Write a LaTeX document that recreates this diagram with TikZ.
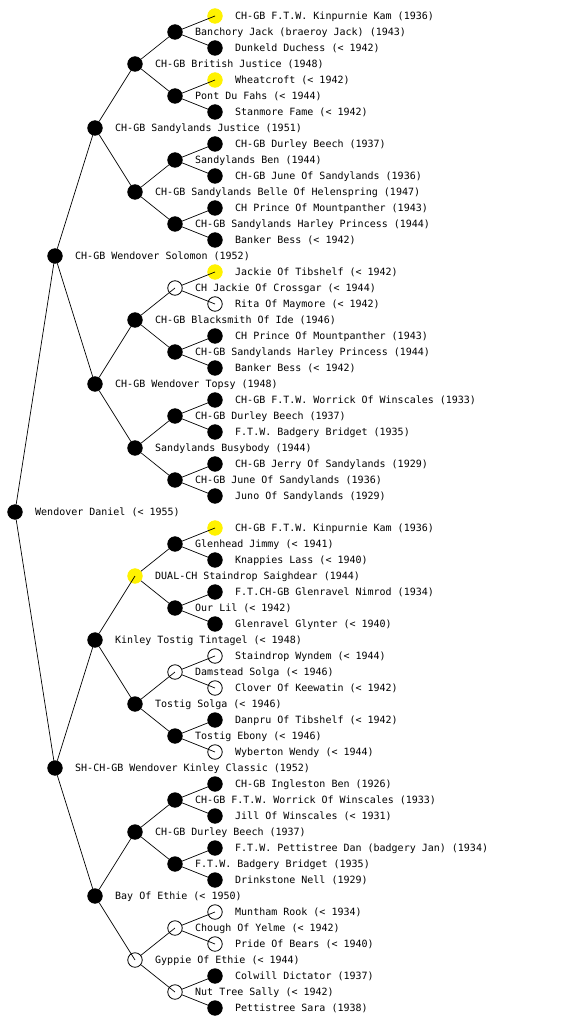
\documentclass[tikz,border=0pt]{standalone}
\usepackage{fontspec}
\setmonofont{DejaVu Sans Mono}
\begin{document}
\begin{tikzpicture}[x=1pt,y=-1pt,
  mk/.style={circle,inner sep=0pt,minimum size=14.5pt,line width=0.8pt,draw=black},
  blk/.style={mk,fill=black},
  yel/.style={mk,draw=yellow,fill=yellow},
  opn/.style={mk},
  lbl/.style={anchor=base west,inner sep=0pt,font=\ttfamily\fontsize{10}{12}\selectfont},
  edge/.style={line width=0.7pt,draw=black}]
\useasboundingbox[fill=white] (0,0) rectangle (560,1024);
\foreach \k/\g/\s/\t in {
0/5/yel/{CH-GB F.T.W. Kinpurnie Kam (1936)},
1/4/blk/{Banchory Jack (braeroy Jack) (1943)},
2/5/blk/{Dunkeld Duchess (< 1942)},
3/3/blk/{CH-GB British Justice (1948)},
4/5/yel/{Wheatcroft (< 1942)},
5/4/blk/{Pont Du Fahs (< 1944)},
6/5/blk/{Stanmore Fame (< 1942)},
7/2/blk/{CH-GB Sandylands Justice (1951)},
8/5/blk/{CH-GB Durley Beech (1937)},
9/4/blk/{Sandylands Ben (1944)},
10/5/blk/{CH-GB June Of Sandylands (1936)},
11/3/blk/{CH-GB Sandylands Belle Of Helenspring (1947)},
12/5/blk/{CH Prince Of Mountpanther (1943)},
13/4/blk/{CH-GB Sandylands Harley Princess (1944)},
14/5/blk/{Banker Bess (< 1942)},
15/1/blk/{CH-GB Wendover Solomon (1952)},
16/5/yel/{Jackie Of Tibshelf (< 1942)},
17/4/opn/{CH Jackie Of Crossgar (< 1944)},
18/5/opn/{Rita Of Maymore (< 1942)},
19/3/blk/{CH-GB Blacksmith Of Ide (1946)},
20/5/blk/{CH Prince Of Mountpanther (1943)},
21/4/blk/{CH-GB Sandylands Harley Princess (1944)},
22/5/blk/{Banker Bess (< 1942)},
23/2/blk/{CH-GB Wendover Topsy (1948)},
24/5/blk/{CH-GB F.T.W. Worrick Of Winscales (1933)},
25/4/blk/{CH-GB Durley Beech (1937)},
26/5/blk/{F.T.W. Badgery Bridget (1935)},
27/3/blk/{Sandylands Busybody (1944)},
28/5/blk/{CH-GB Jerry Of Sandylands (1929)},
29/4/blk/{CH-GB June Of Sandylands (1936)},
30/5/blk/{Juno Of Sandylands (1929)},
31/0/blk/{Wendover Daniel (< 1955)},
32/5/yel/{CH-GB F.T.W. Kinpurnie Kam (1936)},
33/4/blk/{Glenhead Jimmy (< 1941)},
34/5/blk/{Knappies Lass (< 1940)},
35/3/yel/{DUAL-CH Staindrop Saighdear (1944)},
36/5/blk/{F.T.CH-GB Glenravel Nimrod (1934)},
37/4/blk/{Our Lil (< 1942)},
38/5/blk/{Glenravel Glynter (< 1940)},
39/2/blk/{Kinley Tostig Tintagel (< 1948)},
40/5/opn/{Staindrop Wyndem (< 1944)},
41/4/opn/{Damstead Solga (< 1946)},
42/5/opn/{Clover Of Keewatin (< 1942)},
43/3/blk/{Tostig Solga (< 1946)},
44/5/blk/{Danpru Of Tibshelf (< 1942)},
45/4/blk/{Tostig Ebony (< 1946)},
46/5/opn/{Wyberton Wendy (< 1944)},
47/1/blk/{SH-CH-GB Wendover Kinley Classic (1952)},
48/5/blk/{CH-GB Ingleston Ben (1926)},
49/4/blk/{CH-GB F.T.W. Worrick Of Winscales (1933)},
50/5/blk/{Jill Of Winscales (< 1931)},
51/3/blk/{CH-GB Durley Beech (1937)},
52/5/blk/{F.T.W. Pettistree Dan (badgery Jan) (1934)},
53/4/blk/{F.T.W. Badgery Bridget (1935)},
54/5/blk/{Drinkstone Nell (1929)},
55/2/blk/{Bay Of Ethie (< 1950)},
56/5/opn/{Muntham Rook (< 1934)},
57/4/opn/{Chough Of Yelme (< 1942)},
58/5/opn/{Pride Of Bears (< 1940)},
59/3/opn/{Gyppie Of Ethie (< 1944)},
60/5/blk/{Colwill Dictator (1937)},
61/4/opn/{Nut Tree Sally (< 1942)},
62/5/blk/{Pettistree Sara (1938)}}{
  \node[\s] (n\k) at ({15+40*\g},{16+16*\k}) {};
  \node[lbl] (t\k) at ({35+40*\g},{19.6+16*\k}) {\t};
}
\foreach \p/\c in {31/15,31/47,
  15/7,15/23,47/39,47/55,
  7/3,7/11,23/19,23/27,39/35,39/43,55/51,55/59,
  3/1,3/5,11/9,11/13,19/17,19/21,27/25,27/29,35/33,35/37,43/41,43/45,51/49,51/53,59/57,59/61,
  1/0,1/2,5/4,5/6,9/8,9/10,13/12,13/14,17/16,17/18,21/20,21/22,25/24,25/26,29/28,29/30,
  33/32,33/34,37/36,37/38,41/40,41/42,45/44,45/46,49/48,49/50,53/52,53/54,57/56,57/58,61/60,61/62}
  \draw[edge] (n\p) -- (n\c.center);
\end{tikzpicture}
\end{document}
